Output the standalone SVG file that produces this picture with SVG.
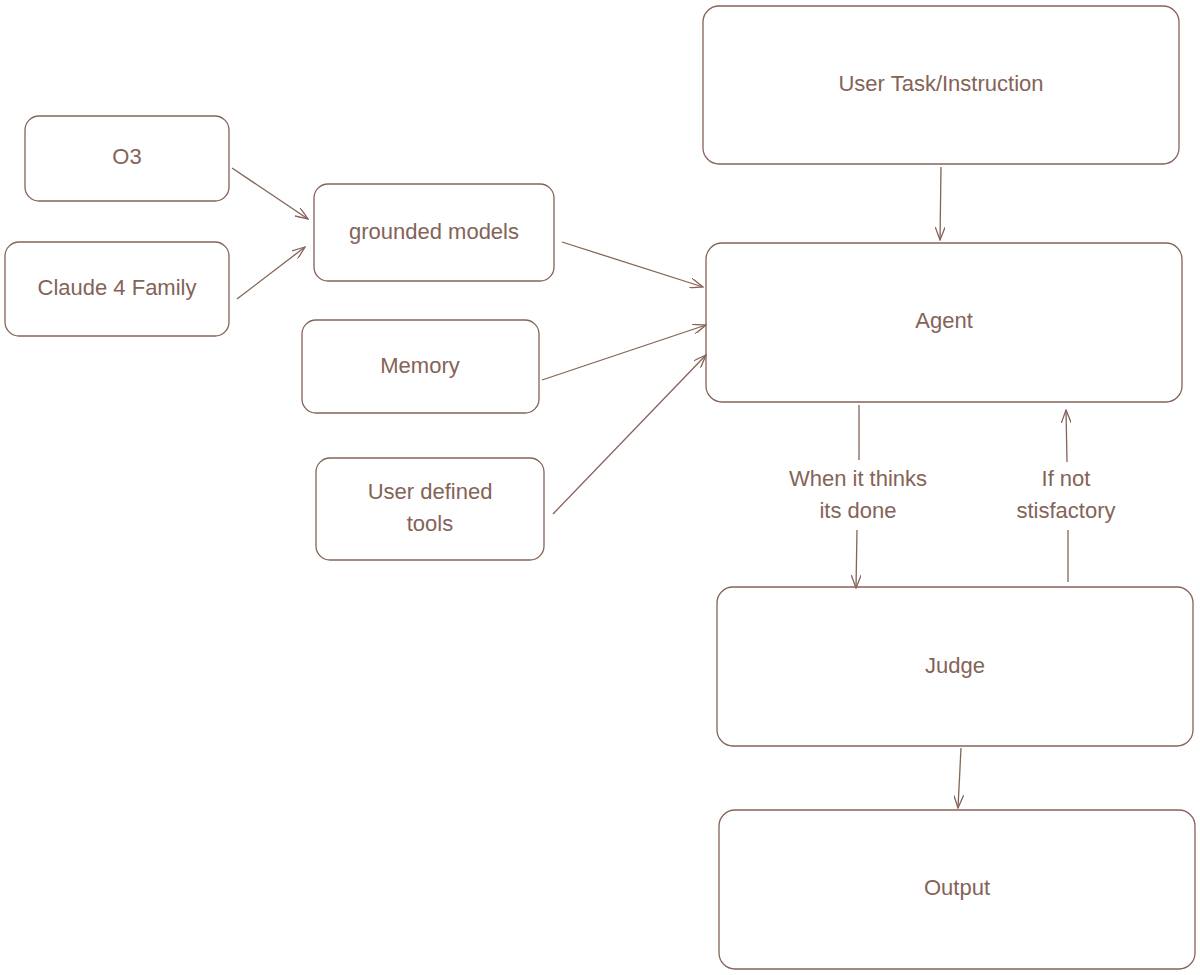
<svg xmlns="http://www.w3.org/2000/svg" width="1200" height="975" viewBox="0 0 1200 975">
<style>
.n rect{fill:#fff;stroke:#846358;stroke-width:1.3}
text{font-family:"Liberation Sans",sans-serif;font-size:22px;fill:#846358;text-anchor:middle;dominant-baseline:middle}
.c line{stroke:#846358;stroke-width:1.3;marker-end:url(#a)}
</style>
<defs><marker id="a" markerWidth="14" markerHeight="10" refX="13" refY="5" orient="auto" markerUnits="userSpaceOnUse"><path d="M0,0 L13,5 L0,10" fill="none" stroke="#846358" stroke-width="1.3"/></marker></defs>
<rect width="1200" height="975" fill="#fff"/>
<g id="o3" class="n"><rect x="25" y="116" width="204" height="85" rx="14"/><text x="127" y="158">O3</text></g>
<g id="claude" class="n"><rect x="5" y="242" width="224" height="94" rx="14"/><text x="117" y="289">Claude 4 Family</text></g>
<g id="grounded" class="n"><rect x="314" y="184" width="240" height="97" rx="14"/><text x="434" y="233">grounded models</text></g>
<g id="memory" class="n"><rect x="302" y="320" width="237" height="93" rx="14"/><text x="420" y="367">Memory</text></g>
<g id="tools" class="n"><rect x="316" y="458" width="228" height="102" rx="14"/><text x="430" y="493">User defined</text><text x="430" y="525">tools</text></g>
<g id="task" class="n"><rect x="703" y="6" width="476" height="158" rx="16"/><text x="941" y="85">User Task/Instruction</text></g>
<g id="agent" class="n"><rect x="706" y="243" width="476" height="159" rx="16"/><text x="944" y="322">Agent</text></g>
<g id="judge" class="n"><rect x="717" y="587" width="476" height="159" rx="16"/><text x="955" y="667">Judge</text></g>
<g id="output" class="n"><rect x="719" y="810" width="476" height="159" rx="16"/><text x="957" y="889">Output</text></g>
<g id="connectors" class="c">
<line x1="232" y1="168" x2="308" y2="219"/>
<line x1="237" y1="299" x2="305" y2="247"/>
<line x1="562" y1="242" x2="703" y2="287"/>
<line x1="542" y1="380" x2="706" y2="325"/>
<line x1="553" y1="514" x2="706" y2="355"/>
<line x1="941" y1="167" x2="940" y2="240"/>
<line x1="859" y1="405" x2="859" y2="460" style="marker-end:none"/>
<line x1="857" y1="530" x2="856" y2="588"/>
<line x1="1068" y1="582" x2="1068" y2="530" style="marker-end:none"/>
<line x1="1067" y1="462" x2="1066" y2="410"/>
<line x1="961" y1="748" x2="958" y2="808"/>
</g>
<g id="labels"><text x="858" y="480">When it thinks</text><text x="858" y="512">its done</text><text x="1066" y="480">If not</text><text x="1066" y="512">stisfactory</text></g>
</svg>
